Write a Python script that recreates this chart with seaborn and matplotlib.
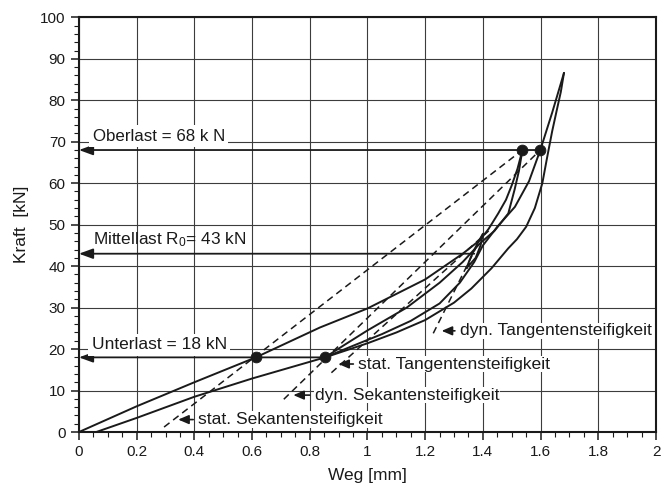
import numpy as np
import pandas as pd
import matplotlib
matplotlib.use("Agg")
import matplotlib.pyplot as plt
import seaborn as sns

# Kraft-Weg-Kurven (Weg in mm, Kraft in kN)
stat_load_weg = [0.0, 0.2, 0.4, 0.613, 0.835, 1.0, 1.2, 1.33, 1.39, 1.42, 1.453, 1.48, 1.50,
                 1.52, 1.537]
stat_load_kraft = [0.0, 6.2, 12.0, 18.0, 25.2, 29.8, 36.8, 43.0, 46.3, 49.0, 52.7, 56.0, 59.5,
                   63.5, 68.0]

stat_unload_weg = [1.537, 1.525, 1.51, 1.488, 1.44, 1.39, 1.33, 1.25, 1.136, 1.0, 0.92, 0.853]
stat_unload_kraft = [68.0, 63.0, 58.5, 52.7, 48.5, 45.5, 41.0, 36.0, 30.0, 24.5, 21.0, 18.0]

dyn_load_weg = [0.853, 0.95, 1.05, 1.15, 1.25, 1.32, 1.37, 1.40, 1.45, 1.511, 1.56, 1.599,
                1.64, 1.681]
dyn_load_kraft = [18.0, 20.8, 23.6, 26.8, 31.0, 36.0, 41.0, 45.0, 49.5, 54.3, 60.5, 68.0,
                  77.0, 86.6]

unload_weg = [1.681, 1.67, 1.656, 1.64, 1.622, 1.606, 1.58, 1.55, 1.518, 1.488, 1.43, 1.36,
              1.30, 1.2, 1.1, 1.0, 0.905, 0.853, 0.6, 0.4, 0.2, 0.06]
unload_kraft = [86.6, 82.0, 77.6, 72.5, 66.0, 60.0, 54.0, 49.5, 46.5, 44.3, 39.5, 34.6,
                31.2, 27.0, 24.0, 21.4, 19.2, 18.0, 12.9, 8.5, 3.4, 0.0]

loop_weg = [1.343, 1.36, 1.38, 1.40, 1.392, 1.375, 1.343]
loop_kraft = [39.5, 42.5, 45.3, 47.8, 45.0, 42.0, 39.5]

# Steifigkeitsgeraden (Anfang, Ende)
stat_sek_weg, stat_sek_kraft = [0.295, 1.537], [1.2, 68.0]
dyn_sek_weg, dyn_sek_kraft = [0.71, 1.599], [7.9, 68.0]
stat_tan_weg, stat_tan_kraft = [0.875, 1.42], [14.3, 48.5]
dyn_tan_weg, dyn_tan_kraft = [1.228, 1.40], [23.8, 47.8]

# Messpunkte
punkt_weg = [0.613, 0.853, 1.537, 1.599]
punkt_kraft = [18, 18, 68, 68]

# Lastniveaus: Kraft, Ende der Linie (Weg)
last_kraft = [68, 43, 18]
last_weg_ende = [1.599, 1.37, 0.853]

x_ticks = [0, 0.2, 0.4, 0.6, 0.8, 1, 1.2, 1.4, 1.6, 1.8, 2]
x_labels = ["0", "0.2", "0.4", "0.6", "0.8", "1", "1.2", "1.4", "1.6", "1.8", "2"]
y_ticks = list(range(0, 101, 10))


def to_frame(curves):
    rows = []
    for name, (xs, ys) in curves.items():
        for i, (xv, yv) in enumerate(zip(xs, ys)):
            rows.append({"kurve": name, "idx": i, "weg": xv, "kraft": yv})
    return pd.DataFrame(rows)


solid = to_frame({
    "stat_load": (stat_load_weg, stat_load_kraft),
    "stat_unload": (stat_unload_weg, stat_unload_kraft),
    "dyn_load": (dyn_load_weg, dyn_load_kraft),
    "unload": (unload_weg, unload_kraft),
    "loop": (loop_weg, loop_kraft),
})
dashed = to_frame({
    "stat_sek": (stat_sek_weg, stat_sek_kraft),
    "dyn_sek": (dyn_sek_weg, dyn_sek_kraft),
    "stat_tan": (stat_tan_weg, stat_tan_kraft),
    "dyn_tan": (dyn_tan_weg, dyn_tan_kraft),
})

sns.set_theme(style="white")
plt.rcParams["font.family"] = ["Liberation Sans", "DejaVu Sans"]
plt.rcParams["mathtext.default"] = "regular"
plt.rcParams["text.color"] = "k"
plt.rcParams["axes.labelcolor"] = "k"
plt.rcParams["xtick.color"] = "k"
plt.rcParams["ytick.color"] = "k"

fig = plt.figure(figsize=(6.69, 4.84), dpi=100)
ax = fig.add_axes([0.118, 0.1074, 0.8626, 0.8568])

ax.set_xlim(0, 2)
ax.set_ylim(0, 100)
ax.set_xticks(x_ticks)
ax.set_xticklabels(x_labels)
ax.set_yticks(y_ticks)
ax.set_xticks(np.arange(0, 2.001, 0.05), minor=True)
ax.set_yticks(np.arange(0, 100.1, 2), minor=True)
ax.grid(True, which="major", color="#3c3c3c", lw=0.8)
ax.set_axisbelow(True)
ax.tick_params(which="major", direction="out", length=6, width=1.1, labelsize=11,
               pad=3.5, labelcolor="k", bottom=True, left=True)
ax.tick_params(which="minor", direction="out", length=3.5, width=0.8,
               bottom=True, left=True)
for side in ax.spines.values():
    side.set_color("k")
    side.set_linewidth(1.5)

sns.lineplot(data=solid, x="weg", y="kraft", units="kurve", estimator=None, sort=False,
             color="k", lw=1.4, ax=ax)
sns.lineplot(data=dashed, x="weg", y="kraft", units="kurve", estimator=None, sort=False,
             color="k", lw=1.1, ax=ax, linestyle=(0, (4.5, 3)))

# Lastlinien mit Pfeil zur Kraftachse
big_arrow = dict(arrowstyle="-|>,head_length=0.6,head_width=0.22", color="k", lw=1.3,
                 shrinkA=0, shrinkB=0, mutation_scale=14)
for kraft, ende in zip(last_kraft, last_weg_ende):
    ax.annotate("", xy=(0.0, kraft), xytext=(ende, kraft), arrowprops=big_arrow)

sns.scatterplot(x=punkt_weg, y=punkt_kraft, color="k", s=60, edgecolor="k",
                zorder=5, ax=ax)

box = dict(facecolor="white", edgecolor="none", pad=2.5)
ax.text(0.047, 71.3, "Oberlast = 68 k N", fontsize=12.2, va="center", ha="left", bbox=box)
ax.text(0.047, 46.3, "Mittellast R$_0$= 43 kN", fontsize=12.4, va="center", ha="left")
ax.text(0.044, 21.0, "Unterlast = 18 kN", fontsize=12.5, va="center", ha="left", bbox=box)

small_arrow = dict(arrowstyle="-|>,head_length=0.7,head_width=0.3", color="k", lw=1.2,
                   shrinkA=0, shrinkB=0, mutation_scale=9)
beschriftung = [
    ("dyn. Tangentensteifigkeit", 1.257, 1.303, 24.4),
    ("stat. Tangentensteifigkeit", 0.899, 0.951, 16.4),
    ("dyn. Sekantensteifigkeit", 0.743, 0.80, 8.9),
    ("stat. Sekantensteifigkeit", 0.344, 0.396, 3.0),
]
for text, tip, tail, kraft in beschriftung:
    ax.annotate("", xy=(tip, kraft), xytext=(tail, kraft), arrowprops=small_arrow)
    ax.text(tail + 0.017, kraft, text, fontsize=12.6, va="center", ha="left",
            bbox=dict(facecolor="white", edgecolor="none", pad=0.5))

ax.set_xlabel("Weg [mm]", fontsize=12.5, labelpad=6)
ax.set_ylabel("Kraft  [kN]", fontsize=12.5, labelpad=8)

fig.savefig("out.png", dpi=100)
